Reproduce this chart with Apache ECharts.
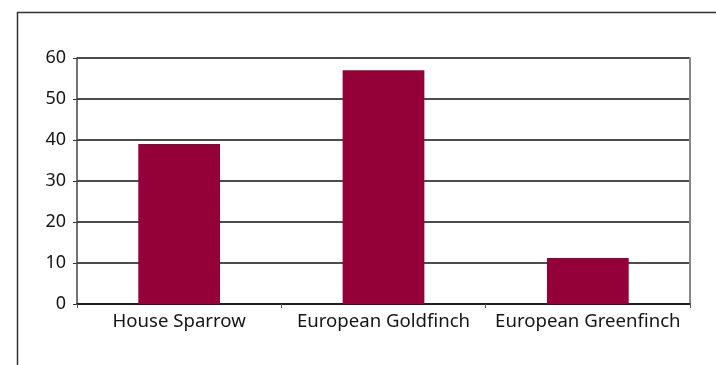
<!DOCTYPE html>
<html>
<head>
<meta charset="utf-8">
<style>
  html, body { margin: 0; padding: 0; background: #fff; }
  #chart { width: 716px; height: 365px; }
</style>
<script src="https://cdn.jsdelivr.net/npm/echarts@6/dist/echarts.min.js"></script>
</head>
<body>
<div id="chart"></div>
<script>
// Bird counts per species
const species = ['House Sparrow', 'European Goldfinch', 'European Greenfinch'];
const counts = [39, 57, 11.2];
const yTicks = { min: 0, max: 60, interval: 10 };

const chart = echarts.init(document.getElementById('chart'), null, { renderer: 'canvas' });
const fontFamily = '"Noto Sans", "Open Sans", sans-serif';

chart.setOption({
  animation: false,
  backgroundColor: '#ffffff',
  graphic: [{
    type: 'rect',
    shape: { x: 17.5, y: 12.5, width: 760, height: 420 },
    style: { fill: 'none', stroke: '#333', lineWidth: 1.5 },
    silent: true
  }],
  grid: { left: 77, right: 26, top: 58, bottom: 61 },
  xAxis: {
    type: 'category',
    data: species,
    boundaryGap: true,
    axisLine: { lineStyle: { color: '#111', width: 1.5 } },
    axisTick: { show: true, alignWithLabel: false, interval: 0, length: 4, lineStyle: { color: '#555', width: 1 } },
    axisLabel: { interval: 0, color: '#151515', fontSize: 18.6, fontFamily, margin: 8 }
  },
  yAxis: [{
    type: 'value',
    min: yTicks.min, max: yTicks.max, interval: yTicks.interval,
    axisLine: { show: true, lineStyle: { color: '#444', width: 1.5 } },
    axisTick: { show: true, length: 4, lineStyle: { color: '#333', width: 1 } },
    axisLabel: { color: '#151515', fontSize: 18, fontFamily, margin: 11 },
    splitLine: { show: true, lineStyle: { color: '#111', width: 1.5 } }
  }, {
    type: 'value',
    position: 'right',
    min: yTicks.min, max: yTicks.max, interval: yTicks.interval,
    axisLine: { show: true, lineStyle: { color: '#888', width: 2 } },
    axisTick: { show: false },
    axisLabel: { show: false },
    splitLine: { show: false }
  }],
  series: [{
    type: 'bar',
    data: counts,
    barWidth: '40%',
    itemStyle: { color: '#940038' }
  }]
});
</script>
</body>
</html>
